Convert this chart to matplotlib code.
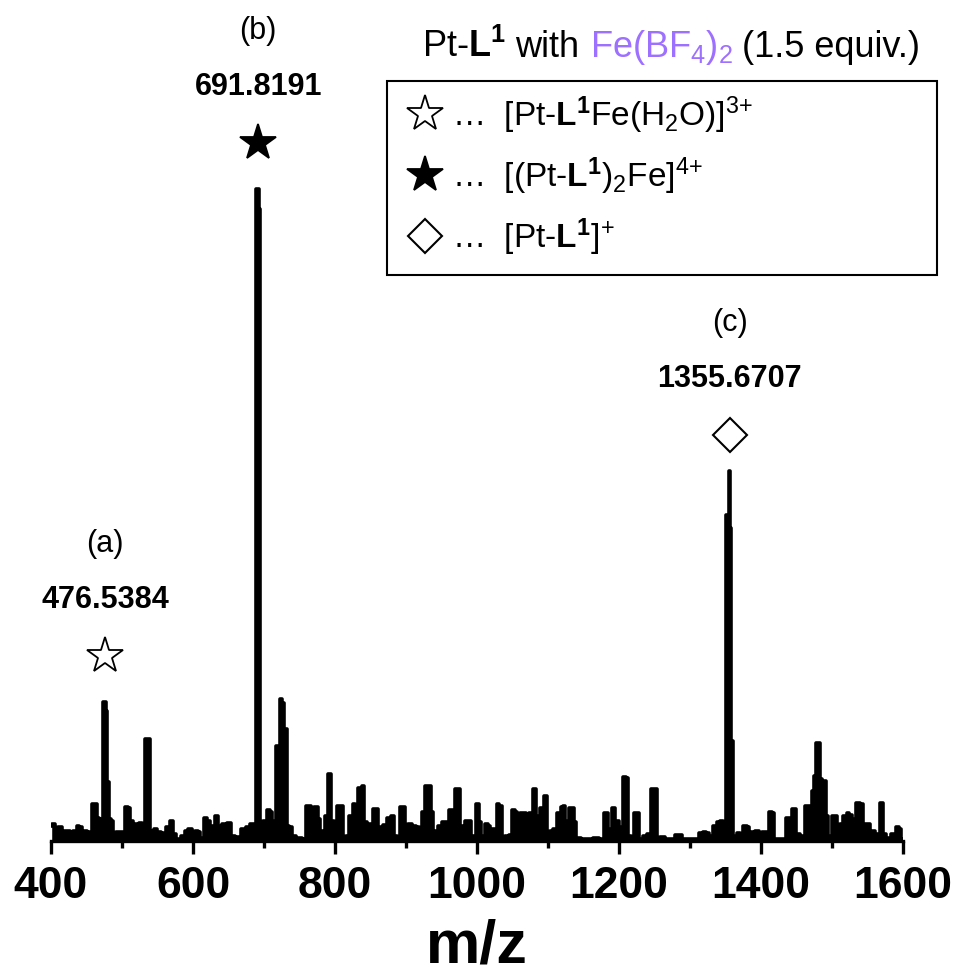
import matplotlib.pyplot as plt
from matplotlib.patches import Rectangle
from matplotlib.ticker import MultipleLocator

plt.rcParams['font.family'] = ['Liberation Sans', 'DejaVu Sans']
plt.rcParams['mathtext.fontset'] = 'custom'
plt.rcParams['mathtext.rm'] = 'Liberation Sans'
plt.rcParams['mathtext.it'] = 'Liberation Sans:italic'
plt.rcParams['mathtext.bf'] = 'Liberation Sans:bold'

# ESI-MS profile (m/z, relative intensity %)
mz = [401, 403, 408, 413, 417, 421, 424, 429, 434, 438, 442, 445, 448, 452, 456,
      460, 463, 466, 469, 476.5384, 477.8, 480, 482, 486, 489, 493, 500, 508, 510,
      513, 517, 521, 526, 530, 535, 538, 541, 544, 547, 552, 558, 565, 570, 573,
      579, 586, 591, 596, 600, 605, 609, 612, 618, 622, 627, 634, 637, 645, 652,
      656, 662, 673, 677, 683, 687, 691.8191, 693, 696, 701, 707, 709, 714, 719,
      725, 727, 730.5, 733, 738, 741, 750, 757, 761, 764, 768, 774, 777, 781, 784,
      788, 793, 796, 800, 807, 810, 813, 817, 823.5, 827, 830, 835, 840, 843, 848,
      852, 856, 860, 862, 866, 869, 877, 882, 885, 890, 894, 897, 899, 906, 911,
      916, 920, 924, 929, 934, 936, 940, 943, 948, 952.5, 958, 963, 967, 971, 975,
      978, 982, 985.5, 990, 992, 996, 1001, 1004, 1008, 1013.6, 1016, 1020.7, 1025,
      1030, 1033, 1037, 1042, 1047, 1052.5, 1055, 1058, 1064, 1067, 1070, 1077,
      1081.7, 1085, 1092, 1098, 1100, 1105, 1109, 1115.5, 1120, 1123, 1126, 1132,
      1136, 1138, 1142, 1150, 1160, 1168, 1175, 1181.7, 1184, 1186, 1193, 1197,
      1202, 1208.5, 1211, 1214, 1219, 1224, 1227, 1230, 1238, 1242, 1247.5, 1252,
      1255, 1260, 1270, 1287, 1290, 1310, 1316.5, 1320, 1325, 1329, 1336, 1341,
      1344.6, 1348, 1353.7, 1355.6707, 1357.4, 1359, 1362, 1369, 1372, 1378.5,
      1382, 1385, 1388, 1395, 1398, 1404, 1408, 1414, 1417, 1420, 1430, 1441,
      1445.5, 1448, 1451, 1458, 1466.6, 1469, 1473.7, 1476, 1479, 1483, 1484.6,
      1487, 1491, 1493, 1497, 1502, 1505, 1508, 1513.6, 1518, 1523, 1526, 1530,
      1538.5, 1541, 1547, 1551, 1555, 1559, 1563, 1571, 1573, 1580, 1586, 1593.4,
      1596, 1599]
intensity = [2.3, 2.6, 1.8, 2.1, 0.8, 1.6, 1.6, 0.3, 1.6, 2.3, 2.1, 1.4, 1.6, 1.4, 1.4,
             5.7, 5.7, 3.6, 3.4, 21.3, 20.0, 9.0, 3.4, 3.1, 0.3, 1.4, 1.4, 5.2, 5.0,
             3.1, 2.3, 2.6, 2.8, 2.6, 15.6, 15.6, 1.5, 0.8, 1.8, 1.4, 1.3, 2.1, 3.1, 1.0,
             0.3, 0.8, 1.6, 1.8, 0.5, 1.5, 1.4, 0.5, 3.6, 3.1, 2.3, 3.8, 2.3, 2.6, 2.8,
             0.8, 0.6, 1.8, 2.1, 2.6, 2.6, 100.0, 97.0, 2.9, 3.1, 4.7, 4.5, 3.1, 14.6,
             21.8, 21.2, 17.2, 2.3, 2.1, 0.8, 0.5, 0.3, 5.4, 5.4, 1.8, 5.2, 3.4, 1.6, 1.4,
             3.8, 10.3, 3.1, 0.3, 5.4, 5.4, 0.3, 0.8, 3.8, 5.6, 5.4, 8.2, 8.4, 2.9, 2.6,
             2.6, 4.9, 4.9, 2.1, 2.1, 2.4, 3.6, 3.8, 0.8, 0.6, 5.2, 5.2, 2.1, 2.6, 2.3,
             2.2, 0.8, 4.5, 8.5, 8.5, 4.5, 0.8, 1.6, 2.3, 2.9, 2.9, 4.7, 4.7, 8.0, 8.0,
             2.3, 0.8, 3.1, 3.1, 0.8, 0.8, 5.7, 2.9, 0.8, 2.6, 2.3, 1.8, 1.8,
             5.7, 5.4, 0.5, 0.8, 0.9, 4.7, 4.5, 0.8, 4.3, 4.3, 0.8, 4.3,
             8.0, 3.8, 5.0, 6.9, 0.8, 1.6, 1.8, 4.3, 5.2, 5.4, 3.1, 5.0,
             5.0, 2.9, 0.5, 0.3, 0.3, 0.5, 0.3, 4.3, 4.3, 1.8, 5.0, 3.1,
             2.1, 9.8, 9.6, 0.8, 0.5, 4.3, 4.3, 0.3, 0.8, 1.0, 8.0, 8.0,
             0.3, 0.6, 0.3, 0.9, 0.3, 0.3, 1.2, 1.4, 1.2, 0.8, 2.3, 2.9,
             3.1, 1.4, 50.0, 56.7, 48.0, 15.4, 0.8, 1.2, 0.8, 2.3,
             2.1, 1.0, 1.4, 1.6, 0.8, 1.4, 1.4, 4.5, 4.3, 0.3, 0.3, 3.6,
             4.9, 4.9, 1.0, 0.8, 5.4, 5.4, 7.7, 10.0, 15.1, 15.1, 9.5,
             9.2, 9.2, 3.8, 0.8, 3.8, 3.8, 1.0, 2.6, 3.8, 4.3, 4.0, 3.4,
             5.9, 5.6, 2.6, 2.6, 1.0, 1.5, 1.0, 5.9, 1.0, 0.5, 1.0, 2.1,
             1.8, 0.3]

# assigned peaks
peak_labels = ['(a)', '(b)', '(c)']
peak_mz = [476.5384, 691.8191, 1355.6707]
peak_int = [21.3, 100.0, 56.7]
peak_marker = ['open_star', 'star', 'diamond']

legend_text = [r'…  [Pt-$\mathbf{L^1}$Fe(H$_2$O)]$^{3{+}}$',
               r'…  [(Pt-$\mathbf{L^1}$)$_2$Fe]$^{4{+}}$',
               r'…  [Pt-$\mathbf{L^1}$]$^{{+}}$']

W, H = 955, 979
fig = plt.figure(figsize=(W / 100, H / 100), dpi=100)


def fx(px):
    return px / W


def fy(py):
    return 1 - py / H


ax = fig.add_axes([fx(51), fy(842), fx(903) - fx(51), fy(0) - fy(842)])
# solid profile: filled under the step trace, then outlined
ax.fill_between(mz, intensity, step='mid', color='black', lw=0)
ax.plot(mz, intensity, color='black', lw=2.6, drawstyle='steps-mid')
ax.set_xlim(400, 1600)
ax.set_ylim(0, 842 / 6.52)

for s in ['top', 'left', 'right']:
    ax.spines[s].set_visible(False)
ax.spines['bottom'].set_linewidth(2.4)
ax.set_yticks([])
ax.xaxis.set_major_locator(MultipleLocator(200))
ax.xaxis.set_minor_locator(MultipleLocator(100))
ax.tick_params(axis='x', which='major', length=9.5, width=2.4, pad=8)
ax.tick_params(axis='x', which='minor', length=5, width=2.4)
for lab in ax.get_xticklabels():
    lab.set_fontweight('bold')
    lab.set_fontsize(32)
ax.set_xlabel('m/z', fontweight='bold', fontsize=44)
ax.xaxis.label.set_va('baseline')
ax.xaxis.set_label_coords(0.5, (842 - 963) / 842)

marker_style = {
    'open_star': dict(marker='*', ms=27, mfc='white', mec='black', mew=1.3),
    'star': dict(marker='*', ms=27, mfc='black', mec='black', mew=1.3),
    'diamond': dict(marker='D', ms=17, mfc='white', mec='black', mew=1.5),
}

# markers, m/z values and letters above each assigned peak
for lab, x, y, m in zip(peak_labels, peak_mz, peak_int, peak_marker):
    dy = 5.5 if m == 'diamond' else 7.0
    ax.plot([x], [y + dy], ls='none', clip_on=False, **marker_style[m])
    ax.text(x, y + dy + 8.8, f'{x:.4f}', ha='center', va='center',
            fontsize=22, fontweight='bold')
    ax.text(x, y + dy + 17.4, lab, ha='center', va='center', fontsize=22)

# legend box
fig.add_artist(Rectangle((fx(387), fy(276)), fx(937) - fx(387), fy(82) - fy(276),
                         transform=fig.transFigure, fill=False, lw=1.5,
                         edgecolor='black'))
for i, (m, t) in enumerate(zip(peak_marker, legend_text)):
    yc = 115 + i * 61
    fig.lines.append(plt.Line2D([fx(425)], [fy(yc)], transform=fig.transFigure,
                                ls='none', **marker_style[m]))
    fig.text(fx(452), fy(yc + 11), t, fontsize=24, va='baseline', ha='left')

# title assembled from pieces so the salt can be coloured
renderer = fig.canvas.get_renderer()
pieces = [('Pt-$\\mathbf{L^1}$', 'black', 10),
          ('with', 'black', 10),
          ('Fe(BF$_4$)$_2$', '#9e70ff', 10),
          ('(1.5 equiv.)', 'black', 0)]
texts = []
total = 0
for s, c, gap in pieces:
    t = fig.text(0, fy(57), s, fontsize=26, color=c, va='baseline', ha='left')
    w = t.get_window_extent(renderer).width
    texts.append((t, w, gap))
    total += w + gap
x0 = 671 - total / 2
for t, w, gap in texts:
    t.set_x(fx(x0))
    x0 += w + gap

fig.savefig('out.png', dpi=100)
